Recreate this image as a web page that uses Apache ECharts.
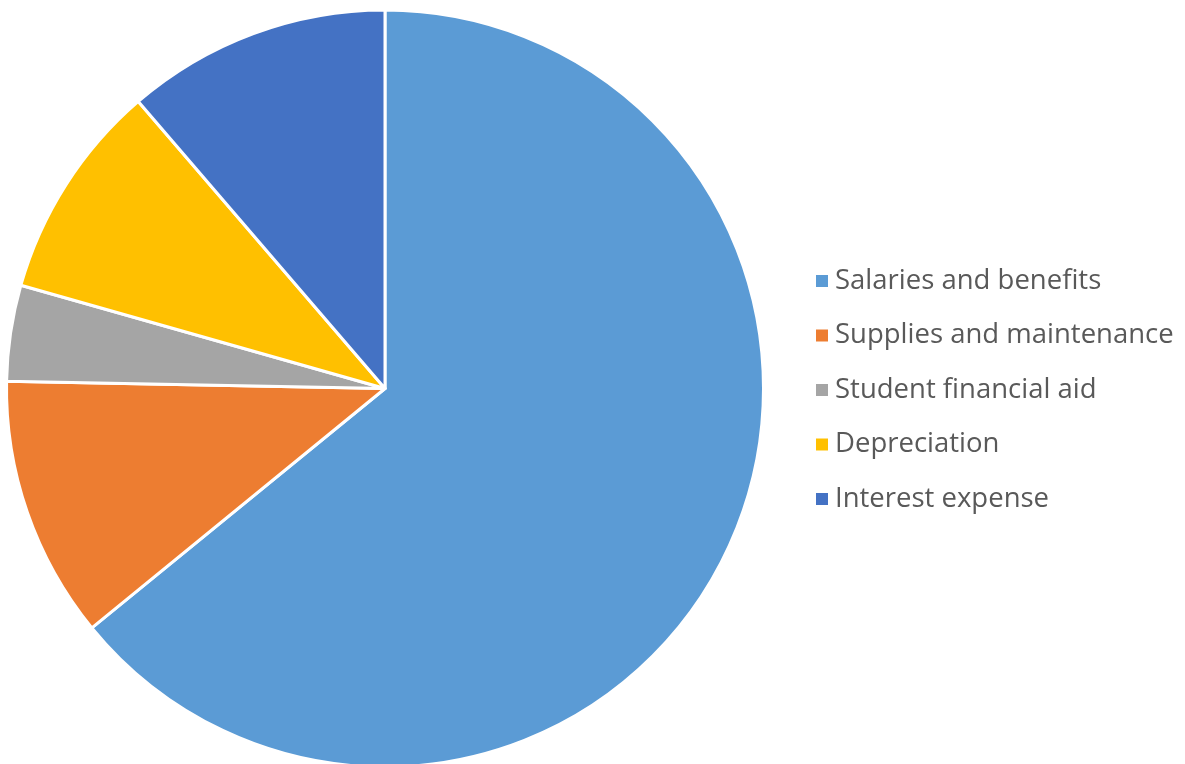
<!DOCTYPE html>
<html>
<head>
<meta charset="utf-8">
<script src="https://cdn.jsdelivr.net/npm/echarts@6/dist/echarts.min.js"></script>
<style>
  html, body { margin: 0; padding: 0; background: #fff; }
  #chart { width: 1185px; height: 764px; }
</style>
</head>
<body>
<div id="chart"></div>
<script>
// Datos (porcentajes aproximados)
const categories = [
  'Salaries and benefits',
  'Supplies and maintenance',
  'Student financial aid',
  'Depreciation',
  'Interest expense'
];
const values = [64.1, 11.2, 4.1, 9.3, 11.3];
const colors = ['#5B9BD5', '#ED7D31', '#A5A5A5', '#FFC000', '#4472C4'];

const chart = echarts.init(document.getElementById('chart'), null, { renderer: 'canvas' });

const option = {
  animation: false,
  color: colors,
  legend: {
    orient: 'vertical',
    left: 809,
    top: 261,
    itemWidth: 14,
    itemHeight: 14,
    itemGap: 24.5,
    icon: 'rect',
    textStyle: {
      fontFamily: 'Open Sans',
      fontSize: 27.5,
      color: '#595959',
      lineHeight: 30,
      padding: [0, 0, 0, 1]
    },
    data: categories
  },
  series: [
    {
      type: 'pie',
      center: [385, 388.5],
      radius: [0, 378.5],
      startAngle: 90,
      clockwise: true,
      label: { show: false },
      labelLine: { show: false },
      itemStyle: { borderColor: '#fff', borderWidth: 3 },
      data: categories.map((name, i) => ({ name: name, value: values[i] }))
    }
  ]
};

chart.setOption(option);
</script>
</body>
</html>
